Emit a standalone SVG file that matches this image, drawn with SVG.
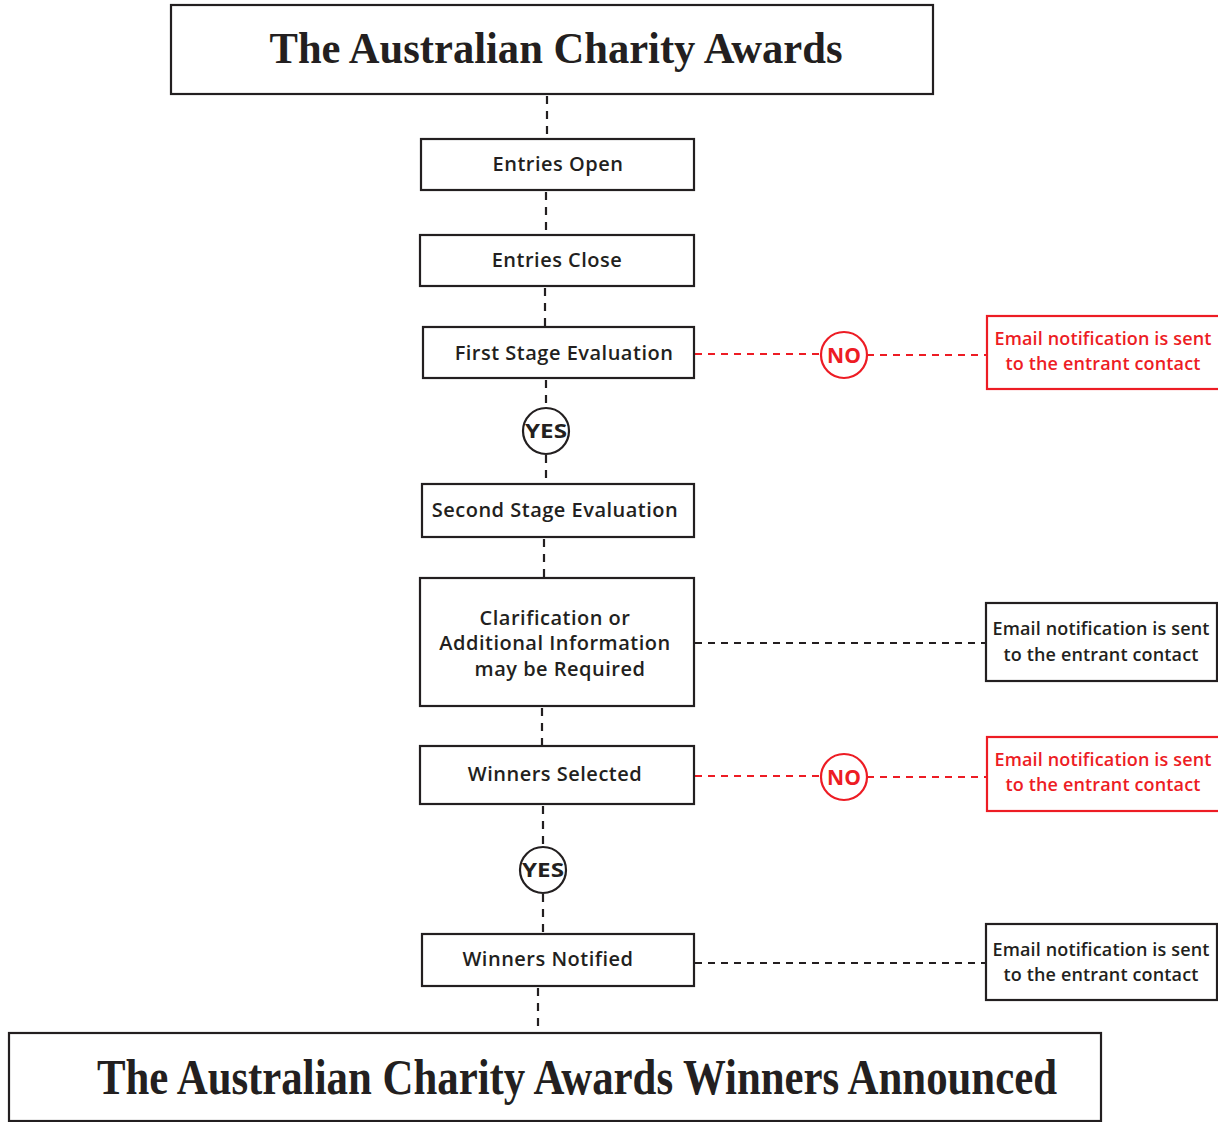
<svg xmlns="http://www.w3.org/2000/svg" width="1218" height="1122" viewBox="0 0 1218 1122">
<style>
.box{fill:#fff;stroke:#231f20;stroke-width:2.2}
.rbox{fill:#fff;stroke:#ed1c24;stroke-width:2.2}
.t{font-family:"Open Sans","Liberation Sans",sans-serif;font-weight:600;font-size:20px;letter-spacing:0.5px;fill:#231f20;text-anchor:middle}
.rt{font-family:"Open Sans","Liberation Sans",sans-serif;font-weight:600;font-size:18px;letter-spacing:0.15px;fill:#ed1c24;text-anchor:middle}
.st{font-family:"Open Sans","Liberation Sans",sans-serif;font-weight:600;font-size:18px;letter-spacing:0.15px;fill:#231f20;text-anchor:middle}
.title{font-family:"Liberation Serif",serif;font-weight:bold;fill:#231f20;text-anchor:middle}
.dv{stroke:#231f20;stroke-width:2.2;stroke-dasharray:8,7;fill:none}
.dh{stroke:#231f20;stroke-width:2.2;stroke-dasharray:7,6;fill:none}
.dr{stroke:#ed1c24;stroke-width:2.2;stroke-dasharray:7,6;fill:none}
.yc{fill:#fff;stroke:#231f20;stroke-width:2.2}
.nc{fill:#fff;stroke:#ed1c24;stroke-width:2.2}
.yt{font-family:"Open Sans","Liberation Sans",sans-serif;font-weight:700;font-size:20px;fill:#231f20;text-anchor:middle}
.nt{font-family:"Open Sans","Liberation Sans",sans-serif;font-weight:700;font-size:21px;fill:#ed1c24;text-anchor:middle}
</style>
<rect width="1218" height="1122" fill="#fff"/>
<g id="connectors">
<line class="dv" x1="547" y1="96" x2="547" y2="138"/>
<line class="dv" x1="546" y1="192" x2="546" y2="234"/>
<line class="dv" x1="545" y1="288" x2="545" y2="326"/>
<line class="dv" x1="546" y1="380" x2="546" y2="408"/>
<line class="dv" x1="546" y1="455" x2="546" y2="483"/>
<line class="dv" x1="544" y1="539" x2="544" y2="577"/>
<line class="dv" x1="542" y1="708" x2="542" y2="745"/>
<line class="dv" x1="543" y1="806" x2="543" y2="847"/>
<line class="dv" x1="543" y1="894" x2="543" y2="933"/>
<line class="dv" x1="538" y1="988" x2="538" y2="1031"/>
<line class="dr" x1="695" y1="354" x2="821" y2="354"/>
<line class="dr" x1="867" y1="355" x2="986" y2="355"/>
<line class="dh" x1="695" y1="643" x2="985" y2="643"/>
<line class="dr" x1="695" y1="776" x2="821" y2="776"/>
<line class="dr" x1="867" y1="777" x2="986" y2="777"/>
<line class="dh" x1="695" y1="963" x2="985" y2="963"/>
</g>
<g id="title">
<rect class="box" x="171" y="5" width="762" height="89"/>
<text class="title" x="556" y="63" font-size="45" textLength="573" lengthAdjust="spacingAndGlyphs">The Australian Charity Awards</text>
</g>
<g id="entries-open">
<rect class="box" x="421" y="139" width="273" height="51"/>
<text class="t" x="558" y="171">Entries Open</text>
</g>
<g id="entries-close">
<rect class="box" x="420" y="235" width="274" height="51"/>
<text class="t" x="557" y="267">Entries Close</text>
</g>
<g id="first-stage">
<rect class="box" x="423" y="327" width="271" height="51"/>
<text class="t" x="564" y="360">First Stage Evaluation</text>
</g>
<g id="yes-1">
<circle class="yc" cx="546" cy="431" r="23"/>
<text class="yt" x="546" y="438" textLength="42" lengthAdjust="spacingAndGlyphs">YES</text>
</g>
<g id="no-1">
<circle class="nc" cx="844" cy="355" r="23"/>
<text class="nt" x="844" y="363">NO</text>
</g>
<g id="email-1">
<rect class="rbox" x="987" y="316" width="235" height="73"/>
<text class="rt" x="1103" y="345">Email notification is sent</text>
<text class="rt" x="1103" y="370">to the entrant contact</text>
</g>
<g id="second-stage">
<rect class="box" x="422" y="484" width="272" height="53"/>
<text class="t" x="555" y="517">Second Stage Evaluation</text>
</g>
<g id="clarification">
<rect class="box" x="420" y="578" width="274" height="128"/>
<text class="t" x="555" y="625">Clarification or</text>
<text class="t" x="555" y="650">Additional Information</text>
<text class="t" x="560" y="676">may be Required</text>
</g>
<g id="email-2">
<rect class="box" x="986" y="603" width="231" height="78"/>
<text class="st" x="1101" y="635">Email notification is sent</text>
<text class="st" x="1101" y="661">to the entrant contact</text>
</g>
<g id="winners-selected">
<rect class="box" x="420" y="746" width="274" height="58"/>
<text class="t" x="555" y="781">Winners Selected</text>
</g>
<g id="no-2">
<circle class="nc" cx="844" cy="777" r="23"/>
<text class="nt" x="844" y="785">NO</text>
</g>
<g id="email-3">
<rect class="rbox" x="987" y="737" width="235" height="74"/>
<text class="rt" x="1103" y="766">Email notification is sent</text>
<text class="rt" x="1103" y="791">to the entrant contact</text>
</g>
<g id="yes-2">
<circle class="yc" cx="543" cy="870" r="23"/>
<text class="yt" x="543" y="877" textLength="42" lengthAdjust="spacingAndGlyphs">YES</text>
</g>
<g id="winners-notified">
<rect class="box" x="422" y="934" width="272" height="52"/>
<text class="t" x="548" y="966">Winners Notified</text>
</g>
<g id="email-4">
<rect class="box" x="986" y="924" width="231" height="76"/>
<text class="st" x="1101" y="956">Email notification is sent</text>
<text class="st" x="1101" y="981">to the entrant contact</text>
</g>
<g id="announced">
<rect class="box" x="9" y="1033" width="1092" height="88"/>
<text class="title" x="577" y="1094" font-size="50" textLength="960" lengthAdjust="spacingAndGlyphs">The Australian Charity Awards Winners Announced</text>
</g>
</svg>
